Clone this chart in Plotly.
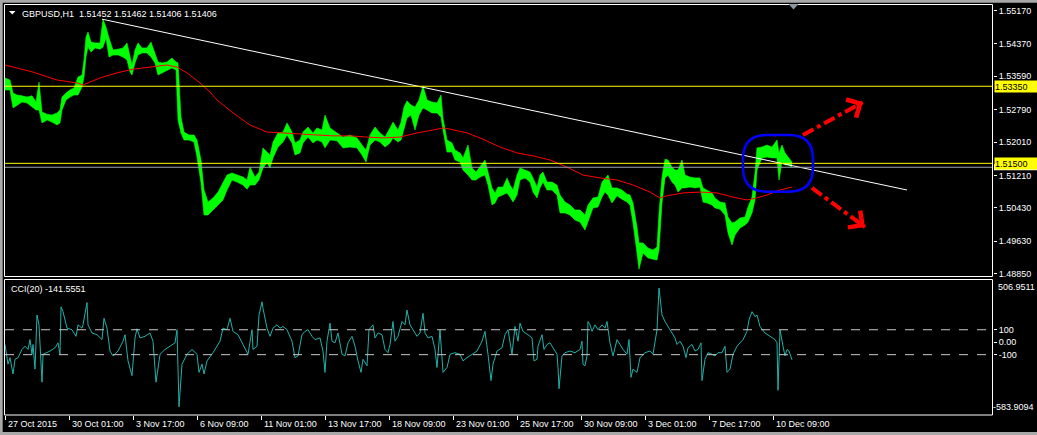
import plotly.graph_objects as go

# ---------------- data ----------------
# price band: bar index (1 bar = 1 hour, weekends skipped), high / low
price_bars = [0, 5, 8, 12, 17, 22, 27, 31, 34, 37, 42, 47, 52, 55, 57, 61, 65, 69, 73, 77,
              79, 81, 83, 86, 90, 95, 98, 101, 104, 108, 113, 118, 122, 125, 127, 130, 133, 137, 142, 146,
              150, 153, 157, 162, 167, 171, 173, 176, 179, 184, 189, 192, 196, 199, 203, 208, 213, 218, 222, 227,
              232, 238, 242, 245, 250, 254, 258, 262, 265, 268, 273, 278, 282, 287, 290, 295, 298, 303, 308, 312,
              317, 320, 325, 332, 338, 345, 352, 357, 361, 365, 370, 375, 380, 385, 388, 393, 396, 399, 402, 406,
              410, 414, 418, 422, 427, 432, 436, 438, 442, 447, 450, 455, 458, 463, 467, 471, 475, 480, 483, 487,
              490, 493, 498, 502, 505, 508, 512, 515, 520, 525, 528, 532, 535, 538, 542, 547, 552, 555, 560, 565,
              570, 575, 580, 583, 588, 593, 597, 600, 603, 607, 612, 617, 622, 625, 628, 632, 634, 638, 643, 648,
              652, 654, 657, 660, 663, 667, 670, 673, 677, 680, 685, 690, 695, 698, 702, 707, 710, 715, 720, 723,
              727, 730, 735, 740, 743, 747, 750, 752, 757, 762, 767, 772, 774, 777, 780, 783, 787]
price_high = [1.5355, 1.5350, 1.5319, 1.5314, 1.5312, 1.5309, 1.5312, 1.5297, 1.5345, 1.5273, 1.5268, 1.5266, 1.5271, 1.5278, 1.5309, 1.5319, 1.5326, 1.5331, 1.5357, 1.5362,
              1.5398, 1.5453, 1.5465, 1.5441, 1.5439, 1.5439, 1.5496, 1.5477, 1.5451, 1.5422, 1.5424, 1.5427, 1.5439, 1.5405, 1.5386, 1.5422, 1.5439, 1.5427, 1.5427, 1.5441,
              1.5415, 1.5393, 1.5391, 1.5393, 1.5403, 1.5393, 1.5391, 1.5261, 1.5225, 1.5218, 1.5218, 1.5206, 1.5158, 1.5086, 1.5057, 1.5067, 1.5081, 1.5103, 1.5122, 1.5127,
              1.5122, 1.5117, 1.5110, 1.5141, 1.5117, 1.5129, 1.5187, 1.5177, 1.5170, 1.5201, 1.5223, 1.5225, 1.5247, 1.5225, 1.5199, 1.5206, 1.5225, 1.5237, 1.5223, 1.5235,
              1.5230, 1.5266, 1.5235, 1.5223, 1.5213, 1.5218, 1.5211, 1.5194, 1.5182, 1.5218, 1.5237, 1.5223, 1.5213, 1.5235, 1.5249, 1.5230, 1.5249, 1.5285, 1.5300, 1.5290,
              1.5285, 1.5302, 1.5336, 1.5302, 1.5297, 1.5295, 1.5314, 1.5259, 1.5206, 1.5199, 1.5182, 1.5175, 1.5163, 1.5194, 1.5139, 1.5129, 1.5141, 1.5158, 1.5129, 1.5091,
              1.5079, 1.5093, 1.5093, 1.5115, 1.5098, 1.5086, 1.5122, 1.5139, 1.5134, 1.5129, 1.5115, 1.5093, 1.5122, 1.5129, 1.5105, 1.5105, 1.5098, 1.5074, 1.5057, 1.5050,
              1.5038, 1.5038, 1.5026, 1.5050, 1.5067, 1.5069, 1.5105, 1.5115, 1.5122, 1.5091, 1.5091, 1.5086, 1.5076, 1.5074, 1.5055, 1.4997, 1.4959, 1.4959, 1.4947, 1.4942,
              1.4949, 1.5031, 1.5117, 1.5160, 1.5158, 1.5141, 1.5134, 1.5134, 1.5158, 1.5122, 1.5117, 1.5115, 1.5115, 1.5091, 1.5086, 1.5079, 1.5067, 1.5057, 1.5055, 1.5021,
              1.5007, 1.5009, 1.5019, 1.5021, 1.5045, 1.5069, 1.5127, 1.5187, 1.5189, 1.5194, 1.5189, 1.5206, 1.5175, 1.5194, 1.5175, 1.5165, 1.5153]
price_low = [1.5326, 1.5326, 1.5283, 1.5290, 1.5297, 1.5295, 1.5285, 1.5278, 1.5278, 1.5247, 1.5254, 1.5249, 1.5242, 1.5247, 1.5278, 1.5302, 1.5309, 1.5314, 1.5314, 1.5333,
             1.5357, 1.5405, 1.5429, 1.5417, 1.5427, 1.5424, 1.5429, 1.5451, 1.5405, 1.5410, 1.5410, 1.5405, 1.5398, 1.5369, 1.5362, 1.5391, 1.5410, 1.5415, 1.5415, 1.5405,
             1.5391, 1.5362, 1.5367, 1.5374, 1.5379, 1.5374, 1.5254, 1.5223, 1.5206, 1.5206, 1.5201, 1.5165, 1.5103, 1.5026, 1.5026, 1.5038, 1.5050, 1.5062, 1.5086, 1.5110,
             1.5105, 1.5098, 1.5088, 1.5098, 1.5098, 1.5110, 1.5139, 1.5151, 1.5139, 1.5163, 1.5189, 1.5201, 1.5218, 1.5199, 1.5170, 1.5175, 1.5199, 1.5213, 1.5199, 1.5206,
             1.5201, 1.5187, 1.5206, 1.5204, 1.5187, 1.5189, 1.5187, 1.5170, 1.5153, 1.5194, 1.5206, 1.5201, 1.5189, 1.5199, 1.5211, 1.5201, 1.5206, 1.5230, 1.5259, 1.5266,
             1.5230, 1.5266, 1.5283, 1.5278, 1.5271, 1.5271, 1.5261, 1.5230, 1.5177, 1.5177, 1.5158, 1.5153, 1.5134, 1.5122, 1.5110, 1.5110, 1.5117, 1.5122, 1.5098, 1.5050,
             1.5055, 1.5069, 1.5074, 1.5079, 1.5069, 1.5057, 1.5074, 1.5110, 1.5115, 1.5105, 1.5081, 1.5067, 1.5091, 1.5105, 1.5086, 1.5086, 1.5074, 1.5031, 1.5031, 1.5026,
             1.5014, 1.5009, 1.4990, 1.5009, 1.5043, 1.5045, 1.5069, 1.5081, 1.5074, 1.5055, 1.5072, 1.5064, 1.5057, 1.5050, 1.5007, 1.4935, 1.4896, 1.4935, 1.4923, 1.4920,
             1.4918, 1.4942, 1.5055, 1.5115, 1.5122, 1.5105, 1.5098, 1.5081, 1.5091, 1.5091, 1.5093, 1.5091, 1.5093, 1.5057, 1.5055, 1.5050, 1.5043, 1.5040, 1.5026, 1.4983,
             1.4954, 1.4978, 1.4995, 1.5002, 1.5009, 1.5031, 1.5062, 1.5134, 1.5163, 1.5165, 1.5163, 1.5163, 1.5110, 1.5153, 1.5146, 1.5146, 1.5141]

# moving average (red)
ma_bars = [0, 28, 52, 72, 78, 95, 112, 128, 145, 162, 172, 182, 195, 205, 212, 228, 245, 262, 278, 295,
           312, 328, 345, 362, 378, 395, 412, 428, 438, 445, 462, 478, 495, 512, 528, 545, 562, 578, 595, 612,
           628, 645, 655, 662, 678, 695, 712, 728, 742, 752, 762, 775, 787]
ma_vals = [1.5386, 1.5369, 1.5350, 1.5343, 1.5338, 1.5355, 1.5367, 1.5376, 1.5381, 1.5386, 1.5381, 1.5367, 1.5343, 1.5321, 1.5302, 1.5271, 1.5242, 1.5225, 1.5223, 1.5220,
           1.5218, 1.5216, 1.5216, 1.5213, 1.5211, 1.5213, 1.5223, 1.5230, 1.5235, 1.5232, 1.5223, 1.5208, 1.5189, 1.5175, 1.5168, 1.5158, 1.5141, 1.5122, 1.5115, 1.5110,
           1.5098, 1.5081, 1.5067, 1.5072, 1.5079, 1.5081, 1.5079, 1.5069, 1.5062, 1.5067, 1.5074, 1.5086, 1.5093]

# white trend line
trend_bars = [97, 902]
trend_vals = [1.5496, 1.5086]

# horizontal levels
yellow_levels = [1.53350, 1.51500]
bid_price = 1.51406
title_text = "GBPUSD,H1\u00a0\u00a01.51452 1.51462 1.51406 1.51406"

# CCI(20)
cci_bars = [0, 3, 5, 8, 10, 13, 17, 20, 23, 25, 27, 28, 30, 32, 34, 37, 38, 42, 45, 50,
            53, 55, 56, 58, 62, 67, 71, 73, 77, 78, 82, 83, 87, 92, 97, 99, 102, 105, 108, 113,
            118, 120, 123, 127, 130, 132, 135, 140, 145, 148, 151, 155, 160, 165, 170, 172, 174, 177, 182, 187,
            192, 194, 197, 199, 202, 208, 215, 218, 222, 225, 228, 233, 238, 243, 247, 248, 252, 254, 257, 258,
            262, 265, 268, 272, 275, 278, 282, 287, 290, 293, 297, 300, 303, 307, 310, 315, 318, 320, 322, 325,
            327, 330, 333, 337, 340, 343, 347, 350, 353, 356, 358, 362, 364, 368, 370, 373, 377, 380, 383, 385,
            388, 390, 393, 397, 400, 402, 405, 408, 412, 415, 418, 420, 423, 427, 430, 432, 435, 438, 442, 445,
            450, 455, 458, 462, 467, 472, 477, 480, 483, 486, 488, 492, 497, 500, 503, 507, 510, 513, 515, 518,
            523, 527, 529, 532, 533, 537, 539, 542, 545, 548, 552, 553, 554, 557, 560, 565, 570, 575, 577, 578,
            580, 582, 583, 585, 587, 590, 593, 597, 600, 602, 605, 608, 612, 615, 618, 622, 624, 626, 628, 632,
            635, 640, 645, 648, 650, 652, 654, 657, 660, 665, 670, 672, 675, 678, 681, 683, 687, 690, 693, 696,
            697, 700, 703, 707, 710, 713, 717, 720, 722, 725, 728, 732, 735, 738, 742, 744, 747, 750, 752, 755,
            760, 765, 770, 772, 773, 775, 777, 778, 780, 782, 784, 787]
cci_vals = [-18, -176, -124, -255, -137, -124, -58, -32, -58, 21, -97, -18, -216, 218, 139, -321, -97, -84, -71, -45,
            -5, -97, 284, 245, 113, 100, 47, 139, 113, 139, 318, 139, 74, 60, 21, 192, 113, -71, -110, -71,
            8, 60, -150, -268, 34, 108, 34, 47, 74, 8, -321, -97, -58, -32, -5, 100, -518, -176, -97, -58,
            -97, -242, -176, -255, -150, -84, 8, 113, 100, 192, 87, 60, -18, -97, 100, -58, -32, 218, 324, 271,
            113, 47, 113, 139, 113, 126, 100, 8, -124, -110, 60, 87, 100, 47, 21, 34, -71, -242, 8, 153,
            8, -5, 74, -97, -110, -5, 47, -32, -150, -242, -137, -189, 100, 139, 34, 74, 60, -58, -84, -18,
            166, 8, 47, 166, 139, 258, 139, 100, 47, 74, 232, 74, 34, 47, -58, -203, 100, -242, -203, -97,
            -84, -97, -150, -124, -97, -71, 8, 87, -97, -308, -176, -71, -45, 60, 100, -97, 126, 8, 153, 87,
            60, 34, -150, -137, -32, 60, -58, -18, -5, -45, -97, -203, -373, -110, -84, -71, -84, -58, 8, -176,
            -189, -110, 166, 139, 87, 139, 100, 139, 113, 166, -5, -110, 21, -18, -58, -97, 21, -282, -216, -242,
            -124, -84, -71, -97, 8, 100, 434, 218, 166, 100, 34, -18, 8, -32, -124, -45, -18, -71, -58, -5,
            -308, -137, -84, -97, -110, -84, -84, -32, -242, -216, -97, -32, -5, 21, 87, 179, 245, 205, 218, 126,
            74, 47, 21, -5, -386, 100, -5, -32, -110, -58, -71, -141.5551]
cci_title = "CCI(20) -141.5551"
cci_levels = [100, -100]
cci_max, cci_min = 506.9511, -583.9094

# axis labels
price_ticks = [1.55170, 1.54370, 1.53590, 1.52790, 1.52010, 1.51210, 1.50430, 1.49630, 1.48850]
time_tick_bars = [0, 64, 128, 192, 256, 320, 384, 448, 512, 576, 640, 704, 768]
time_tick_labels = ["27 Oct 2015", "30 Oct 01:00", "3 Nov 17:00", "6 Nov 09:00", "11 Nov 01:00",
                    "13 Nov 17:00", "18 Nov 09:00", "23 Nov 01:00", "25 Nov 17:00", "30 Nov 09:00",
                    "3 Dec 01:00", "7 Dec 17:00", "10 Dec 09:00"]

# hand-drawn marks on the chart (bar / price)
circle_box = dict(x0=738, x1=808, y0=1.5082, y1=1.5218, rx=24, ry=0.0058)
arrow_up = dict(x0=798, y0=1.5218, x1=858, y1=1.5297)
arrow_down = dict(x0=807, y0=1.5091, x1=860, y1=1.4997)

# ---------------- layout helpers ----------------
W, H = 1037, 435
L, R, T, B = 4, 44, 4, 20
PW, PH = W - L - R, H - T - B


def px_x(px):
    return (px - L) / PW


def px_y(py):
    return (H - B - py) / PH


FONT = "Liberation Sans"
FS = 9
GREEN = "#00ff00"

fig = go.Figure()
fig.add_trace(go.Scatter(x=price_bars, y=price_low, mode="lines",
                         line=dict(color=GREEN, width=0.6), hoverinfo="skip",
                         showlegend=False, xaxis="x", yaxis="y"))
fig.add_trace(go.Scatter(x=price_bars, y=price_high, mode="lines",
                         line=dict(color=GREEN, width=0.6), fill="tonexty", fillcolor=GREEN,
                         hoverinfo="skip", showlegend=False, xaxis="x", yaxis="y"))
fig.add_trace(go.Scatter(x=ma_bars, y=ma_vals, mode="lines", line=dict(color="#ff0000", width=1),
                         hoverinfo="skip", showlegend=False, xaxis="x", yaxis="y"))
fig.add_trace(go.Scatter(x=trend_bars, y=trend_vals, mode="lines", line=dict(color="#ffffff", width=1),
                         hoverinfo="skip", showlegend=False, xaxis="x", yaxis="y"))
fig.add_trace(go.Scatter(x=cci_bars, y=cci_vals, mode="lines", line=dict(color="#20b2aa", width=1),
                         hoverinfo="skip", showlegend=False, xaxis="x2", yaxis="y2"))

shapes = []
# window frame strips
shapes.append(dict(type="rect", xref="paper", yref="paper", x0=px_x(0), x1=px_x(W), y0=px_y(0), y1=px_y(2.7),
                   line=dict(width=0), fillcolor="#a8a8a8", layer="above"))
shapes.append(dict(type="rect", xref="paper", yref="paper", x0=px_x(0), x1=px_x(2.7), y0=px_y(0), y1=px_y(H),
                   line=dict(width=0), fillcolor="#a8a8a8", layer="above"))
shapes.append(dict(type="rect", xref="paper", yref="paper", x0=px_x(0), x1=px_x(W), y0=px_y(432), y1=px_y(H),
                   line=dict(width=0), fillcolor="#a8a8a8", layer="above"))
# panel borders
shapes.append(dict(type="rect", xref="paper", yref="paper", x0=px_x(4.5), x1=px_x(992.5),
                   y0=px_y(276.5), y1=px_y(4.5), line=dict(color="#ffffff", width=1)))
shapes.append(dict(type="rect", xref="paper", yref="paper", x0=px_x(4.5), x1=px_x(992.5),
                   y0=px_y(415), y1=px_y(279.5), line=dict(color="#ffffff", width=1)))
# horizontal price levels
for lv in yellow_levels:
    shapes.append(dict(type="line", xref="paper", yref="y", x0=px_x(5), x1=px_x(992), y0=lv, y1=lv,
                       line=dict(color="#ffff00", width=1)))
shapes.append(dict(type="line", xref="paper", yref="y", x0=px_x(5), x1=px_x(992), y0=bid_price, y1=bid_price,
                   line=dict(color="#9aa3ad", width=1)))
# bid price tag (mostly hidden behind the yellow 1.51500 tag)
shapes.append(dict(type="rect", xref="paper", yref="y", x0=px_x(994), x1=px_x(1037),
                   y0=bid_price - 0.0007, y1=bid_price + 0.0007, line=dict(width=0), fillcolor="#ffffff",
                   layer="above"))
# CCI levels
for lv in cci_levels:
    shapes.append(dict(type="line", xref="paper", yref="y2", x0=px_x(5), x1=px_x(992), y0=lv, y1=lv,
                       line=dict(color="#c8c8c8", width=1, dash="dash")))
# blue rounded box
c = circle_box
x0, x1, y0, y1, rx, ry = c["x0"], c["x1"], c["y0"], c["y1"], c["rx"], c["ry"]
path = (f"M {x0 + rx},{y1} L {x1 - rx},{y1} Q {x1},{y1} {x1},{y1 - ry} "
        f"L {x1},{y0 + ry} Q {x1},{y0} {x1 - rx},{y0} L {x0 + rx},{y0} "
        f"Q {x0},{y0} {x0},{y0 + ry} L {x0},{y1 - ry} Q {x0},{y1} {x0 + rx},{y1} Z")
shapes.append(dict(type="path", xref="x", yref="y", path=path, line=dict(color="#0000ff", width=2.5)))
# red dash-dot arrow shafts
for a in (arrow_up, arrow_down):
    shapes.append(dict(type="line", xref="x", yref="y", x0=a["x0"], y0=a["y0"], x1=a["x1"], y1=a["y1"],
                       line=dict(color="#ff0000", width=4, dash="dashdot")))
# title triangle and chart shift marker
shapes.append(dict(type="path", xref="paper", yref="paper",
                   path=f"M {px_x(9)},{px_y(11)} L {px_x(15.5)},{px_y(11)} L {px_x(12.25)},{px_y(14.5)} Z",
                   fillcolor="#ffffff", line=dict(width=0)))
shapes.append(dict(type="path", xref="paper", yref="paper",
                   path=f"M {px_x(788.5)},{px_y(4)} L {px_x(798.5)},{px_y(4)} L {px_x(793.5)},{px_y(9.5)} Z",
                   fillcolor="#8a97a3", line=dict(width=0), layer="above"))

ann = []
ann.append(dict(text=title_text, xref="paper", yref="paper", x=px_x(20), y=px_y(13.5),
                xanchor="left", yanchor="middle", showarrow=False, font=dict(color="#ffffff", size=FS)))
ann.append(dict(text=cci_title, xref="paper", yref="paper", x=px_x(9), y=px_y(289),
                xanchor="left", yanchor="middle", showarrow=False, font=dict(color="#ffffff", size=FS)))
for b, t in zip(time_tick_bars, time_tick_labels):
    ann.append(dict(text=t, xref="x2", yref="paper", x=b, y=px_y(424), xanchor="left", yanchor="middle",
                    xshift=1, showarrow=False, font=dict(color="#ffffff", size=FS)))
# price tags with yellow background
for lv in yellow_levels:
    ann.append(dict(text=f"{lv:.5f}", xref="paper", yref="y", x=px_x(994), y=lv, xanchor="left",
                    yanchor="middle", showarrow=False, bgcolor="#ffff00", borderpad=0, width=42, height=11,
                    align="left", font=dict(color="#000000", size=FS)))
ann.append(dict(text=f"{cci_max:.4f}", xref="paper", yref="paper", x=px_x(996), y=px_y(287), xanchor="left",
                yanchor="middle", showarrow=False, font=dict(color="#ffffff", size=FS)))
ann.append(dict(text=f"{cci_min:.4f}", xref="paper", yref="paper", x=px_x(1036), y=px_y(407), xanchor="right",
                yanchor="middle", showarrow=False, font=dict(color="#ffffff", size=FS)))
# red arrowheads
for a in (arrow_up, arrow_down):
    dxp = a["x1"] - a["x0"]
    dyp = (a["y1"] - a["y0"]) / 0.00024
    n = (dxp ** 2 + dyp ** 2) ** 0.5
    ann.append(dict(text="", x=a["x1"], y=a["y1"], xref="x", yref="y", showarrow=True,
                    ax=-dxp / n * 9, ay=dyp / n * 9, axref="pixel", ayref="pixel",
                    arrowhead=4, arrowwidth=4, arrowsize=1.0, arrowcolor="#ff0000"))

axis_common = dict(showgrid=False, zeroline=False, automargin=False)
fig.update_layout(
    width=W, height=H, template="none",
    margin=dict(l=L, r=R, t=T, b=B, pad=0),
    paper_bgcolor="#000000", plot_bgcolor="#000000",
    font=dict(family=FONT, size=FS, color="#ffffff"),
    showlegend=False, hovermode=False,
    xaxis=dict(domain=[0, 1], range=[-1, 988], anchor="y", showticklabels=False, ticks="",
               showline=False, **axis_common),
    xaxis2=dict(domain=[0, 1], range=[-1, 988], anchor="y2", matches="x", showticklabels=False,
                tickvals=time_tick_bars, ticks="outside", ticklen=4, tickcolor="#ffffff", tickwidth=1,
                showline=False, **axis_common),
    yaxis=dict(domain=[px_y(277), 1], range=[1.48772, 1.55324], anchor="x", side="right",
               tickvals=price_ticks, ticktext=[f"{v:.5f}" for v in price_ticks],
               ticks="outside", ticklen=3, tickcolor="#ffffff", tickwidth=1,
               tickfont=dict(color="#ffffff", size=FS, family=FONT), showline=False, **axis_common),
    yaxis2=dict(domain=[0, px_y(279)], range=[cci_min, cci_max], anchor="x2", side="right",
                tickvals=[100, 0, -100], ticktext=["100", "0.00", "-100"],
                ticks="outside", ticklen=3, tickcolor="#ffffff", tickwidth=1,
                tickfont=dict(color="#ffffff", size=FS, family=FONT), showline=False, **axis_common),
    shapes=shapes, annotations=ann,
)

fig.write_html("out.html", config={"displayModeBar": False},
               post_script="document.body.style.margin='0';document.body.style.padding='0';"
                           "document.body.style.overflow='hidden';document.body.style.background='#000';")
